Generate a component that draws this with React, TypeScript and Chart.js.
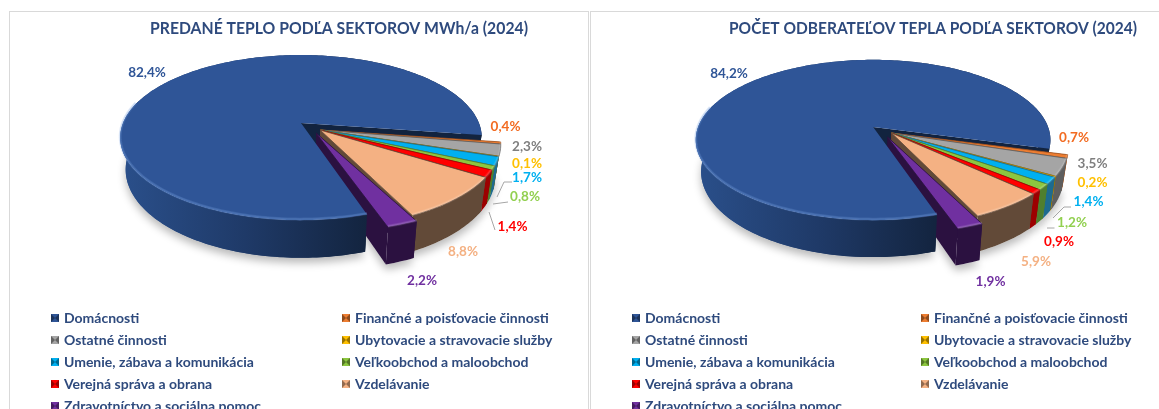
import React, { useEffect, useRef } from "react";
import { Chart, registerables } from "chart.js";

Chart.register(...registerables);

const sectors = [
  "Domácnosti",
  "Finančné a poisťovacie činnosti",
  "Ostatné činnosti",
  "Ubytovacie a stravovacie služby",
  "Umenie, zábava a komunikácia",
  "Veľkoobchod a maloobchod",
  "Verejná správa a obrana",
  "Vzdelávanie",
  "Zdravotníctvo a sociálna pomoc",
];
const heatSold = [82.4, 0.4, 2.3, 0.1, 1.7, 0.8, 1.4, 8.8, 2.2];
const customers = [84.2, 0.7, 3.5, 0.2, 1.4, 1.2, 0.9, 5.9, 1.9];
const topColors = ["#2F5597", "#ED7D31", "#A5A5A5", "#FFC000", "#00B0F0", "#8CC63F", "#FF0000", "#F4B183", "#7030A0"];
const wallColors = ["#12233f", "#a0521f", "#5e5e5e", "#9c7500", "#1d6b8f", "#4f7f2e", "#9c0000", "#624a38", "#2b1140"];
const labelColors = ["#2F5597", "#F26B21", "#7F7F7F", "#FFC000", "#00B0F0", "#92D050", "#FF0000", "#F4B183", "#7030A0"];
const NAVY = "#2E4A7D";
const FONT = "Lato";

type Geo = { dx: number; dy: number; a: number; b: number; p: number };

const pie3d = {
  id: "pie3d",
  beforeDatasetsDraw(chart: any, _args: any, o: any) {
    const ctx: CanvasRenderingContext2D = chart.ctx;
    const arcs = chart.getDatasetMeta(0).data;
    const n = arcs.length;
    const colors = chart.data.datasets[0].backgroundColor;
    const geo = (i: number): Geo => (i === 0 ? o.first : i === n - 1 ? o.last : o.rest);
    const pt = (i: number, t: number, low: boolean, c = false) => {
      const g = geo(i);
      const R = arcs[i].outerRadius;
      const ax = arcs[i].x + g.dx * R;
      const ay = arcs[i].y + g.dy * R;
      const u = c ? 0 : Math.cos(t);
      const v = c ? 0 : Math.sin(t);
      const w = 1 - g.p * v;
      const s = low ? o.lowScale : 1;
      return [ax + (g.a * R * s * u) / w, ay + (g.b * R * v) / w + (low ? (o.depth * R) / w : 0)];
    };
    const arcPts = (i: number, from: number, to: number, low: boolean) => {
      const res: number[][] = [];
      const steps = Math.max(2, Math.ceil(Math.abs(to - from) / 0.02));
      for (let k = 0; k <= steps; k++) res.push(pt(i, from + ((to - from) * k) / steps, low));
      return res;
    };
    const trace = (ps: number[][]) => {
      ctx.beginPath();
      ps.forEach((p, k) => (k ? ctx.lineTo(p[0], p[1]) : ctx.moveTo(p[0], p[1])));
      ctx.closePath();
    };
    const wallFill = (i: number) => {
      if (i !== 0) return wallColors[i];
      const g0 = pt(0, Math.PI, false)[0];
      const g1 = pt(0, arcs[0].startAngle, false)[0];
      const g = ctx.createLinearGradient(g0, 0, g1, 0);
      g.addColorStop(0, "#2a4f8a");
      g.addColorStop(0.5, "#1f3a68");
      g.addColorStop(1, "#13243f");
      return g;
    };
    const outer = (i: number, from: number, to: number) => {
      trace([...arcPts(i, from, to, false), ...arcPts(i, to, from, true)]);
      ctx.fillStyle = wallFill(i);
      ctx.fill();
    };
    const cut = (i: number, t: number, color: string) => {
      trace([pt(i, 0, false, true), pt(i, t, false), pt(i, t, true), pt(i, 0, true, true)]);
      ctx.fillStyle = color;
      ctx.fill();
    };
    const walls = (i: number) => {
      const a = arcs[i];
      cut(i, a.startAngle, wallColors[i]);
      cut(i, a.endAngle, wallColors[i]);
      outer(i, a.startAngle, a.endAngle);
    };
    const top = (i: number) => {
      const a = arcs[i];
      trace([pt(i, 0, false, true), ...arcPts(i, a.startAngle, a.endAngle, false)]);
      ctx.fillStyle = colors[i];
      ctx.fill();
      if (i > 0) {
        ctx.strokeStyle = wallColors[i];
        ctx.lineWidth = 0.8;
        ctx.stroke();
      }
    };
    const rim = (i: number, color: string) => {
      const a = arcs[i];
      const to = i === 0 ? Math.PI + 0.25 : a.endAngle;
      const ps = arcPts(i, a.startAngle, to, false);
      ctx.strokeStyle = color;
      [3, 1.5].forEach((width) => {
        ctx.beginPath();
        ps.forEach((p, k) => (k ? ctx.lineTo(p[0], p[1] - 1) : ctx.moveTo(p[0], p[1] - 1)));
        ctx.lineWidth = width;
        ctx.stroke();
      });
    };

    ctx.save();
    // soft ground shadow
    ctx.save();
    ctx.shadowColor = "rgba(0,0,0,0.28)";
    ctx.shadowBlur = 9;
    ctx.shadowOffsetY = 5;
    for (let i = 0; i < n; i++) {
      const a = arcs[i];
      trace([pt(i, 0, true, true), ...arcPts(i, a.startAngle, a.endAngle, true)]);
      ctx.fillStyle = "#fff";
      ctx.fill();
    }
    ctx.restore();

    // the wide slice goes behind the others, its top is laid last
    walls(0);
    for (let i = 1; i < n - 1; i++) {
      walls(i);
    }
    for (let i = 1; i < n - 1; i++) {
      top(i);
      rim(i, "rgba(255,255,255,0.1)");
    }
    walls(n - 1);
    outer(0, arcs[0].startAngle, Math.PI + 0.3);
    top(n - 1);
    rim(n - 1, "rgba(255,255,255,0.1)");
    top(0);
    rim(0, "rgba(120,160,225,0.22)");
    ctx.restore();

    // percentage labels
    const ox = o.origin[0];
    const oy = o.origin[1];
    const vals = chart.data.datasets[0].data;
    ctx.save();
    ctx.strokeStyle = "#A6A6A6";
    ctx.lineWidth = 1;
    o.leaders.forEach((line: number[][]) => {
      ctx.beginPath();
      line.forEach((p, k) => (k ? ctx.lineTo(p[0] - ox, p[1] - oy) : ctx.moveTo(p[0] - ox, p[1] - oy)));
      ctx.stroke();
    });
    ctx.font = `bold ${o.labelSize}px ${FONT}`;
    ctx.textAlign = "center";
    ctx.textBaseline = "middle";
    vals.forEach((v: number, i: number) => {
      ctx.fillStyle = labelColors[i];
      ctx.fillText(v.toFixed(1).replace(".", ",") + "%", o.labelAt[i][0] - ox, o.labelAt[i][1] - oy);
    });
    ctx.restore();
    return false;
  },
  afterDraw(chart: any, _args: any, o: any) {
    const ctx: CanvasRenderingContext2D = chart.ctx;
    const ox = o.origin[0];
    const oy = o.origin[1];
    ctx.save();
    ctx.font = `bold ${o.titleSize}px ${FONT}`;
    ctx.fillStyle = NAVY;
    ctx.textAlign = "center";
    ctx.textBaseline = "middle";
    ctx.fillText(chart.options.plugins.title.text, o.titleAt[0] - ox, o.titleAt[1] - oy, o.titleWidth);

    ctx.font = `bold ${o.legendSize}px ${FONT}`;
    ctx.textAlign = "left";
    const colors = chart.data.datasets[0].backgroundColor;
    chart.data.labels.forEach((name: string, i: number) => {
      const col = i % 2;
      const row = Math.floor(i / 2);
      const x = o.legendX[col] - ox;
      const y = o.legendY + row * o.legendStep - oy;
      ctx.fillStyle = colors[i];
      ctx.fillRect(x, y - 4, 8, 8);
      ctx.fillStyle = "rgba(0,0,0,0.4)";
      ctx.beginPath();
      ctx.moveTo(x, y - 4);
      ctx.lineTo(x + 4, y);
      ctx.lineTo(x, y + 4);
      ctx.closePath();
      ctx.moveTo(x + 8, y - 4);
      ctx.lineTo(x + 4, y);
      ctx.lineTo(x + 8, y + 4);
      ctx.closePath();
      ctx.fill();
      ctx.fillStyle = NAVY;
      ctx.fillText(name, x + 13, y);
    });
    ctx.restore();
  },
};

const leftPanel = {
  title: "PREDANÉ TEPLO PODĽA SEKTOROV MWh/a (2024)",
  values: heatSold,
  left: 10,
  width: 579,
  padding: { left: 41, right: 0, top: 0, bottom: 161 },
  opts: {
    origin: [10, 12],
    titleAt: [339, 29],
    titleSize: 17,
    titleWidth: 378,
    labelSize: 13.5,
    legendSize: 14,
    legendX: [51, 342],
    legendY: 318,
    legendStep: 22,
    depth: 0.263,
    lowScale: 0.97,
    first: { dx: -0.161, dy: -0.059, a: 1.508, b: 0.678, p: 0.176 },
    rest: { dx: 0, dy: 0, a: 1.508, b: 0.678, p: 0.176 },
    last: { dx: -0.034, dy: 0.025, a: 1.644, b: 0.7, p: 0.176 },
    labelAt: [[147, 73], [505.5, 127], [527, 147], [527, 164], [527, 178], [525, 197], [512.5, 227], [463, 252], [422, 281]],
    leaders: [
      [[512, 182], [504, 182], [497, 197]],
      [[508, 202], [493, 204]],
      [[495, 230], [489, 212]],
    ],
  },
};

const rightPanel = {
  title: "POČET ODBERATEĽOV TEPLA PODĽA SEKTOROV (2024)",
  values: customers,
  left: 591,
  width: 568,
  padding: { left: 33, right: 0, top: 0, bottom: 155 },
  opts: {
    origin: [591, 12],
    titleAt: [933, 29],
    titleSize: 17,
    titleWidth: 408,
    labelSize: 13.5,
    legendSize: 14,
    legendX: [632, 921],
    legendY: 318,
    legendStep: 22,
    depth: 0.256,
    lowScale: 0.97,
    first: { dx: -0.152, dy: -0.05, a: 1.446, b: 0.645, p: 0.1625 },
    rest: { dx: 0, dy: 0, a: 1.446, b: 0.645, p: 0.1625 },
    last: { dx: -0.033, dy: 0.033, a: 1.587, b: 0.675, p: 0.1625 },
    labelAt: [[729, 74], [1074, 138], [1092.5, 164], [1092.5, 183], [1088.5, 202], [1072, 223], [1059, 242], [1036, 262], [990.5, 282]],
    leaders: [
      [[1071, 207], [1064, 207], [1053, 218]],
      [[1054.5, 228], [1047, 228]],
    ],
  },
};

function Panel({ cfg }: { cfg: typeof leftPanel }) {
  const ref = useRef<HTMLCanvasElement>(null);
  useEffect(() => {
    const chart = new Chart(ref.current as HTMLCanvasElement, {
      type: "pie",
      data: {
        labels: sectors,
        datasets: [{ data: cfg.values, backgroundColor: topColors, borderWidth: 0 }],
      },
      options: {
        animation: false,
        responsive: false,
        rotation: 162,
        layout: { padding: cfg.padding },
        events: [],
        plugins: {
          legend: { display: false },
          tooltip: { enabled: false },
          title: { display: false, text: cfg.title },
          pie3d: cfg.opts,
        },
      } as any,
      plugins: [pie3d as any],
    });
    return () => chart.destroy();
  }, [cfg]);
  return (
    <canvas
      ref={ref}
      width={cfg.width}
      height={397}
      style={{ position: "absolute", left: cfg.left, top: 12, width: cfg.width, height: 397, filter: "blur(0.35px)" }}
    />
  );
}

export default function App() {
  return (
    <div style={{ position: "absolute", left: 0, top: 0, width: 1159, height: 409, overflow: "hidden", background: "#fff" }}>
      <div style={{ position: "absolute", left: 9, top: 11, width: 580, height: 420, borderTop: "1px solid #D9D9D9", borderLeft: "1px solid #D9D9D9", borderRight: "1px solid #D9D9D9", boxSizing: "border-box" }} />
      <div style={{ position: "absolute", left: 590, top: 11, width: 600, height: 420, borderTop: "1px solid #D9D9D9", borderLeft: "1px solid #D9D9D9", boxSizing: "border-box" }} />
      <Panel cfg={leftPanel} />
      <Panel cfg={rightPanel} />
    </div>
  );
}
